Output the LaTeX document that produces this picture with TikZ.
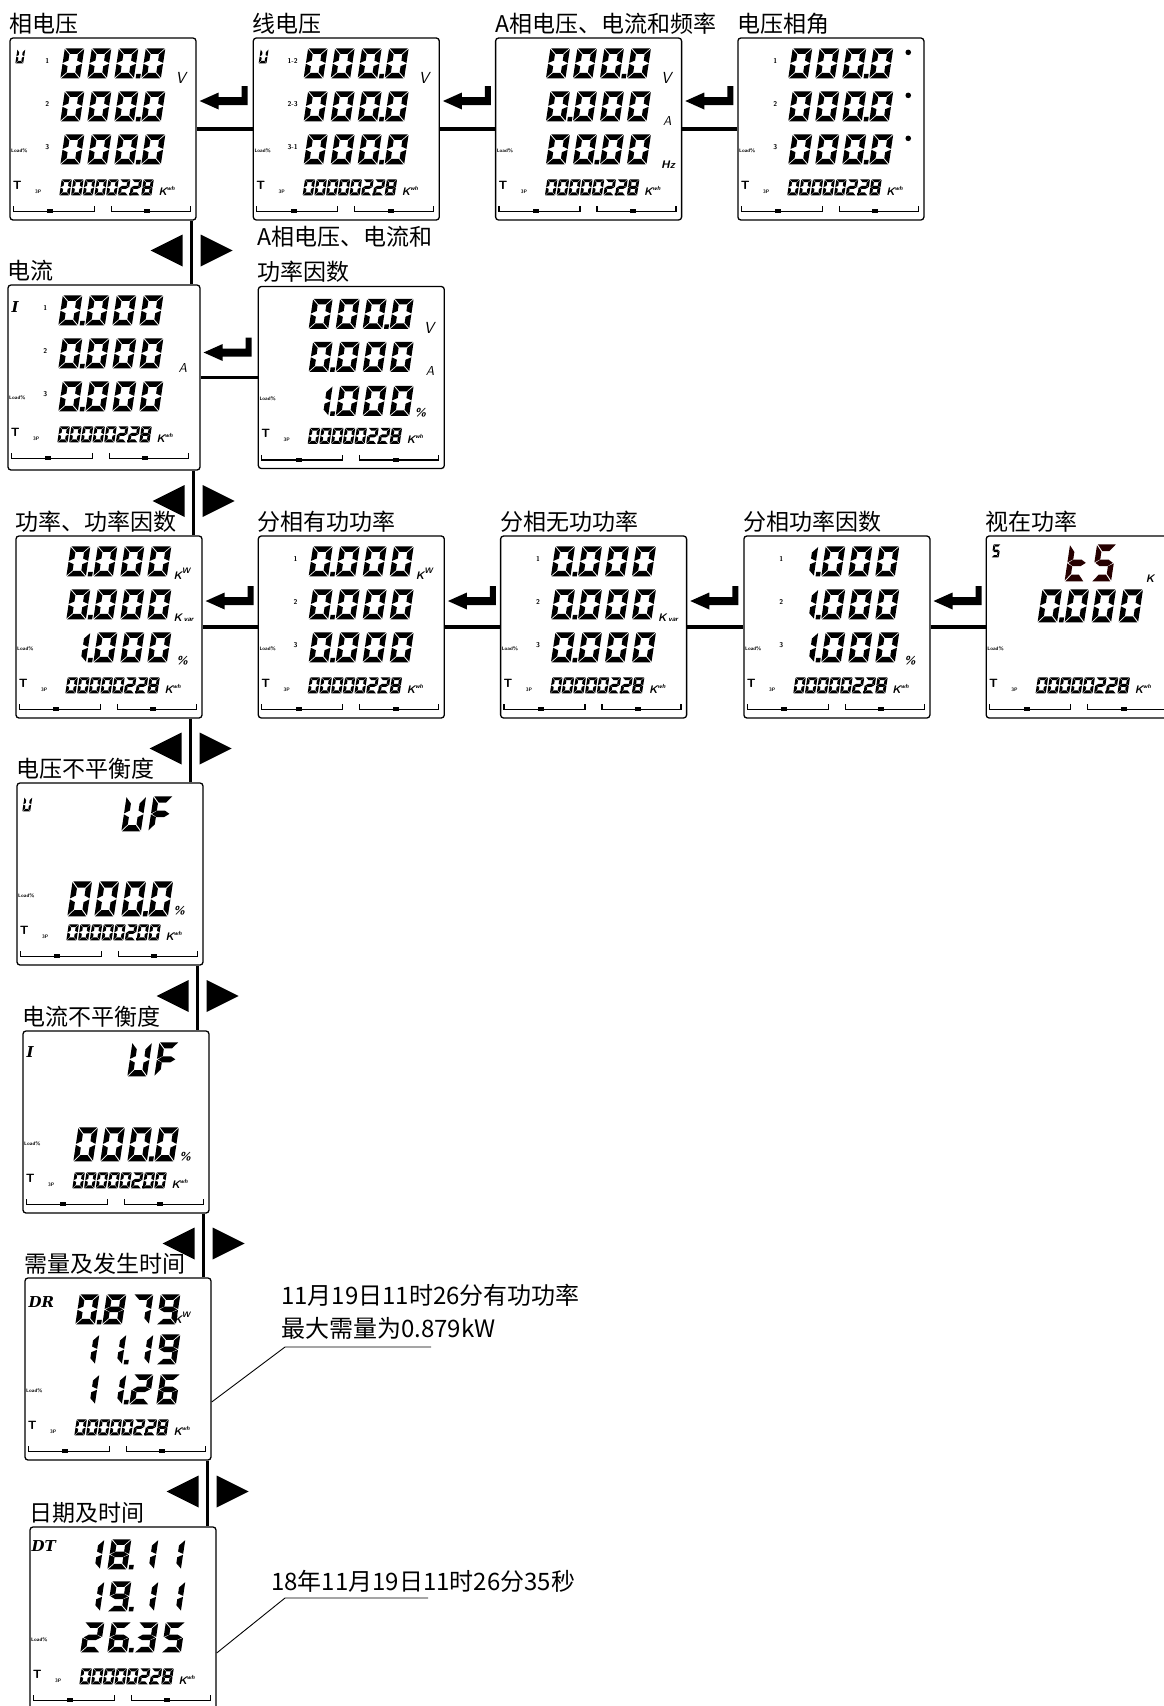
\documentclass[tikz,border=0pt]{standalone}
\usepackage{fontspec}
\newfontfamily\cjk{Noto Sans CJK SC}
\newfontfamily\tagfont{DejaVu Serif}
\usetikzlibrary{positioning,calc}

% segment outlines of one digit cell (13 x 20)
\expandafter\def\csname lcdsega\endcsname{(0.5,20) -- (12.5,20) -- (8.9,16.4) -- (4.1,16.4) -- cycle}
\expandafter\def\csname lcdsegb\endcsname{(13,19.5) -- (9.4,15.9) -- (9.4,11.9) -- (13,10.3) -- cycle}
\expandafter\def\csname lcdsegc\endcsname{(13,0.5) -- (9.4,4.1) -- (9.4,8.1) -- (13,9.7) -- cycle}
\expandafter\def\csname lcdsegd\endcsname{(0.5,0) -- (12.5,0) -- (8.9,3.6) -- (4.1,3.6) -- cycle}
\expandafter\def\csname lcdsege\endcsname{(0,0.5) -- (3.6,4.1) -- (3.6,8.1) -- (0,9.7) -- cycle}
\expandafter\def\csname lcdsegf\endcsname{(0,19.5) -- (3.6,15.9) -- (3.6,11.9) -- (0,10.3) -- cycle}
\expandafter\def\csname lcdsegg\endcsname{(0.7,10) -- (3.9,11.8) -- (9.1,11.8) -- (12.3,10) -- (9.1,8.2) -- (3.9,8.2) -- cycle}

% segments lit for each glyph
\expandafter\def\csname lcdmap0\endcsname{a,b,c,d,e,f}
\expandafter\def\csname lcdmap1\endcsname{b,c}
\expandafter\def\csname lcdmap2\endcsname{a,b,g,e,d}
\expandafter\def\csname lcdmap3\endcsname{a,b,g,c,d}
\expandafter\def\csname lcdmap4\endcsname{f,g,b,c}
\expandafter\def\csname lcdmap5\endcsname{a,f,g,c,d}
\expandafter\def\csname lcdmap6\endcsname{a,f,g,e,c,d}
\expandafter\def\csname lcdmap7\endcsname{a,b,c}
\expandafter\def\csname lcdmap8\endcsname{a,b,c,d,e,f,g}
\expandafter\def\csname lcdmap9\endcsname{a,b,c,d,f,g}
\expandafter\def\csname lcdmapU\endcsname{b,c,d,e,f}
\expandafter\def\csname lcdmapF\endcsname{a,e,f,g}
\expandafter\def\csname lcdmapt\endcsname{d,e,f,g}
\expandafter\def\csname lcdmapS\endcsname{a,f,g,c,d}

\def\lcdtok#1#2\relax{%
  \if-#1\else
    \edef\lcdlist{\csname lcdmap#1\endcsname}%
    \foreach \s in \lcdlist {\expandafter\expandafter\expandafter\fill\csname lcdseg\s\endcsname;}%
  \fi
  \ifx\relax#2\relax\else\fill (14.2,0) rectangle (17.2,3);\fi}

% position, xscale, yscale, pitch, glyphs
\newcommand{\lcd}[5]{%
  \begin{scope}[shift={(#1)}, xslant=0.15, xscale=#2, yscale=#3]
    \foreach \c [count=\n from 0] in {#5} {
      \begin{scope}[xshift=\n*#4]
        \expandafter\lcdtok\c\relax
      \end{scope}}
  \end{scope}}
\newcommand{\bigrow}[2]{\lcd{51,#1}{1.5}{1.5}{18}{#2}}

% common lower part of a display
\newcommand{\lcdbottom}[2]{%
  \node[tinylbl] (#1-load) at (10,-113) {Load\%};
  \node[tlbl] (#1-t) at (8,-148) {T};
  \node[tinylbl] (#1-3p) at (29,-154) {3P};
  \lcd{50,-158}{0.78}{0.8}{15}{#2}
  \node[unit] (#1-kwh) at (149,-158) {K\raisebox{5pt}{\fontsize{6}{6}\selectfont wh}};
  \draw[lcdbar] (4,-169) |- (85,-174) -- (85,-169);
  \draw[lcdbar] (102,-169) |- (181,-174) -- (181,-169);
  \fill (38,-176) rectangle (44,-172);
  \fill (135,-176) rectangle (141,-172);}

\tikzset{
  lcd/.style={draw, line width=1.3pt, rounded corners=3pt, minimum width=186pt, minimum height=182pt, inner sep=0pt},
  ttl/.style={font=\cjk\fontsize{23}{35}\selectfont, inner sep=0pt, align=left},
  note/.style={font=\cjk\fontsize{24}{33}\selectfont, inner sep=0pt, align=left},
  link/.style={line width=3.5pt},
  leader/.style={line width=0.9pt},
  lcdbar/.style={line width=1.3pt},
  seglbl/.style={font=\sffamily\bfseries\fontsize{7}{7}\selectfont, inner sep=0pt},
  tinylbl/.style={font=\sffamily\bfseries\fontsize{5}{5}\selectfont, inner sep=0pt},
  tlbl/.style={font=\sffamily\bfseries\fontsize{12}{12}\selectfont, inner sep=0pt},
  tagl/.style={font=\tagfont\bfseries\itshape\fontsize{15}{15}\selectfont, inner sep=0pt, anchor=south west},
  unit/.style={font=\sffamily\bfseries\itshape\fontsize{11}{11}\selectfont, inner sep=0pt, anchor=south west},
  volt/.style={font=\sffamily\itshape\fontsize{16}{16}\selectfont, inner sep=0pt, anchor=south west},
  amp/.style={font=\sffamily\itshape\fontsize{13}{13}\selectfont, inner sep=0pt, anchor=south west},
  enterkey/.pic={\fill (0,0) -- (19,8.5) -- (19,4) -- (42,4) -- (42,15) -- (48,15) -- (48,-4) -- (19,-4) -- (19,-8.5) -- cycle;},
  navpair/.pic={\fill (-9,16) -- (-41,0) -- (-9,-16) -- cycle; \fill (9,16) -- (41,0) -- (9,-16) -- cycle;}
}

\begin{document}
\begin{tikzpicture}[x=1pt, y=1pt]
    \useasboundingbox (0,0) rectangle (1164,-1706);

    % displays
    \node[lcd] (p1) at (103,-129) {};
    \node[lcd, right=56pt of p1] (p2) {};
    \node[lcd, right=55pt of p2] (p3) {};
    \node[lcd, right=55pt of p3] (p4) {};
    \node[lcd, minimum width=192pt, minimum height=185pt] (p5) at (104,-377.5) {};
    \node[lcd, right=57pt of p5] (p6) {};
    \node[lcd] (p7) at (109,-627) {};
    \node[lcd, right=55pt of p7] (p8) {};
    \node[lcd, right=55pt of p8] (p9) {};
    \node[lcd, right=56pt of p9] (p10) {};
    \node[lcd, minimum width=183pt, right=55pt of p10] (p11) {};
    \node[lcd] (p12) at (110,-874) {};
    \node[lcd] (p13) at (116,-1122) {};
    \node[lcd] (p14) at (118,-1369) {};
    \node[lcd] (p15) at (123,-1618) {};

    % titles
    \node[ttl, above right=3pt and 0pt of p1.north west] (t1) {相电压};
    \node[ttl, above right=3pt and 0pt of p2.north west] (t2) {线电压};
    \node[ttl, above right=3pt and 0pt of p3.north west] (t3) {A相电压、电流和频率};
    \node[ttl, above right=3pt and 0pt of p4.north west] (t4) {电压相角};
    \node[ttl, above right=3pt and 0pt of p5.north west] (t5) {电流};
    \node[ttl, above right=3pt and 0pt of p6.north west] (t6) {A相电压、电流和\\功率因数};
    \node[ttl, above right=3pt and 0pt of p7.north west] (t7) {功率、功率因数};
    \node[ttl, above right=3pt and 0pt of p8.north west] (t8) {分相有功功率};
    \node[ttl, above right=3pt and 0pt of p9.north west] (t9) {分相无功功率};
    \node[ttl, above right=3pt and 0pt of p10.north west] (t10) {分相功率因数};
    \node[ttl, above right=3pt and 0pt of p11.north west] (t11) {视在功率};
    \node[ttl, above right=3pt and 0pt of p12.north west] (t12) {电压不平衡度};
    \node[ttl, above right=3pt and 0pt of p13.north west] (t13) {电流不平衡度};
    \node[ttl, above right=3pt and 0pt of p14.north west] (t14) {需量及发生时间};
    \node[ttl, above right=3pt and 0pt of p15.north west] (t15) {日期及时间};

    % horizontal links with enter keys
    \foreach \a/\b/\h in {p1/p2/28, p2/p3/28, p3/p4/28, p5/p6/25, p7/p8/26, p8/p9/26, p9/p10/26, p10/p11/26} {
        \draw[link] (\a.east) -- (\b.west);
        \pic at ([shift={(3,\h)}]\a.east) {enterkey};
    }

    % vertical links with left/right keys
    \foreach \a/\b/\d [count=\i] in {p1/p5/5, p5/p7/7, p7/p12/12, p12/p13/6, p13/p14/6, p14/p15/4} {
        \coordinate (v\i a) at ([xshift=-\d pt]\a.south east);
        \coordinate (v\i b) at (v\i a |- \b.north);
        \draw[link] (v\i a) -- (v\i b);
        \pic at ($(v\i a)!.5!(v\i b)+(0,2)$) {navpair};
    }

    % phase voltage
    \begin{scope}[shift={(p1.north west)}]
        \lcd{6,-26}{0.6}{0.7}{18}{U}
        \foreach \r in {1,2,3} {\node[seglbl] (p1-l\r) at (38,-43*\r+19) {\r};}
        \bigrow{-41}{0,0,0.,0}
        \bigrow{-84}{0,0,0.,0}
        \bigrow{-127}{0,0,0.,0}
        \node[volt] (p1-v) at (166,-46) {V};
        \lcdbottom{p1}{0,0,0,0,0,2.,2,8}
    \end{scope}

    % line voltage
    \begin{scope}[shift={(p2.north west)}]
        \lcd{6,-26}{0.6}{0.7}{18}{U}
        \foreach \r/\t in {1/1-2, 2/2-3, 3/3-1} {\node[seglbl] (p2-l\r) at (40,-43*\r+19) {\t};}
        \bigrow{-41}{0,0,0.,0}
        \bigrow{-84}{0,0,0.,0}
        \bigrow{-127}{0,0,0.,0}
        \node[volt] (p2-v) at (166,-46) {V};
        \lcdbottom{p2}{0,0,0,0,0,2.,2,8}
    \end{scope}

    % phase A voltage, current, frequency
    \begin{scope}[shift={(p3.north west)}]
        \bigrow{-41}{0,0,0.,0}
        \bigrow{-84}{0.,0,0,0}
        \bigrow{-127}{0,0.,0,0}
        \node[volt] (p3-v) at (166,-46) {V};
        \node[amp] (p3-a) at (168,-88) {A};
        \node[unit] (p3-hz) at (166,-131) {Hz};
        \lcdbottom{p3}{0,0,0,0,0,2.,2,8}
    \end{scope}

    % voltage phase angle
    \begin{scope}[shift={(p4.north west)}]
        \foreach \r in {1,2,3} {
            \node[seglbl] (p4-l\r) at (38,-43*\r+19) {\r};
            \fill (171,-43*\r+28) circle (2.8);
        }
        \bigrow{-41}{0,0,0.,0}
        \bigrow{-84}{0,0,0.,0}
        \bigrow{-127}{0,0,0.,0}
        \lcdbottom{p4}{0,0,0,0,0,2.,2,8}
    \end{scope}

    % current
    \begin{scope}[shift={(p5.north west)}]
        \node[tagl] (p5-i) at (4,-28) {I};
        \foreach \r in {1,2,3} {\node[seglbl] (p5-l\r) at (38,-43*\r+19) {\r};}
        \bigrow{-41}{0.,0,0,0}
        \bigrow{-84}{0.,0,0,0}
        \bigrow{-127}{0.,0,0,0}
        \node[amp] (p5-a) at (171,-88) {A};
        \lcdbottom{p5}{0,0,0,0,0,2.,2,8}
    \end{scope}

    % phase A voltage, current, power factor
    \begin{scope}[shift={(p6.north west)}]
        \bigrow{-43}{0,0,0.,0}
        \bigrow{-86}{0.,0,0,0}
        \bigrow{-130}{1.,0,0,0}
        \node[volt] (p6-v) at (166,-48) {V};
        \node[amp] (p6-a) at (168,-90) {A};
        \node[unit] (p6-pc) at (157,-131) {\%};
        \lcdbottom{p6}{0,0,0,0,0,2.,2,8}
    \end{scope}

    % power, power factor
    \begin{scope}[shift={(p7.north west)}]
        \bigrow{-41}{0.,0,0,0}
        \bigrow{-84}{0.,0,0,0}
        \bigrow{-127}{1.,0,0,0}
        \node[unit] (p7-kw) at (158,-44) {K\raisebox{6pt}{\fontsize{8}{8}\selectfont W}};
        \node[unit] (p7-kvar) at (158,-86) {K\,\fontsize{7}{7}\selectfont var};
        \node[unit] (p7-pc) at (161,-130) {\%};
        \lcdbottom{p7}{0,0,0,0,0,2.,2,8}
    \end{scope}

    % active power per phase
    \begin{scope}[shift={(p8.north west)}]
        \foreach \r in {1,2,3} {\node[seglbl] (p8-l\r) at (38,-43*\r+19) {\r};}
        \bigrow{-41}{0.,0,0,0}
        \bigrow{-84}{0.,0,0,0}
        \bigrow{-127}{0.,0,0,0}
        \node[unit] (p8-kw) at (158,-44) {K\raisebox{6pt}{\fontsize{8}{8}\selectfont W}};
        \lcdbottom{p8}{0,0,0,0,0,2.,2,8}
    \end{scope}

    % reactive power per phase
    \begin{scope}[shift={(p9.north west)}]
        \foreach \r in {1,2,3} {\node[seglbl] (p9-l\r) at (38,-43*\r+19) {\r};}
        \bigrow{-41}{0.,0,0,0}
        \bigrow{-84}{0.,0,0,0}
        \bigrow{-127}{0.,0,0,0}
        \node[unit] (p9-kvar) at (158,-86) {K\,\fontsize{7}{7}\selectfont var};
        \lcdbottom{p9}{0,0,0,0,0,2.,2,8}
    \end{scope}

    % power factor per phase
    \begin{scope}[shift={(p10.north west)}]
        \foreach \r in {1,2,3} {\node[seglbl] (p10-l\r) at (38,-43*\r+19) {\r};}
        \bigrow{-41}{1.,0,0,0}
        \bigrow{-84}{1.,0,0,0}
        \bigrow{-127}{1.,0,0,0}
        \node[unit] (p10-pc) at (161,-130) {\%};
        \lcdbottom{p10}{0,0,0,0,0,2.,2,8}
    \end{scope}

    % apparent power
    \begin{scope}[shift={(p11.north west)}]
        \lcd{6,-22}{0.55}{0.65}{18}{S}
        \begin{scope}[color=red!15!black]
            \lcd{52,-46}{1.5}{1.85}{18}{-,t,S,-}
        \end{scope}
        \lcd{52,-87}{1.5}{1.65}{18}{0.,0,0,0}
        \node[unit] (p11-k) at (160,-47) {K};
        \lcdbottom{p11}{0,0,0,0,0,2.,2,8}
    \end{scope}

    % voltage unbalance
    \begin{scope}[shift={(p12.north west)}]
        \lcd{6,-29}{0.6}{0.7}{18}{U}
        \lcd{51,-49}{1.5}{1.75}{18}{-,-,U,F}
        \lcd{51,-134}{1.5}{1.75}{18}{0,0,0.,0}
        \node[unit] (p12-pc) at (157,-133) {\%};
        \lcdbottom{p12}{0,0,0,0,0,2.,0,0}
    \end{scope}

    % current unbalance
    \begin{scope}[shift={(p13.north west)}]
        \node[tagl] (p13-i) at (4,-27) {I};
        \lcd{51,-46}{1.5}{1.7}{18}{-,-,U,F}
        \lcd{51,-131}{1.5}{1.7}{18}{0,0,0.,0}
        \node[unit] (p13-pc) at (157,-131) {\%};
        \lcdbottom{p13}{0,0,0,0,0,2.,0,0}
    \end{scope}

    % demand and time of occurrence
    \begin{scope}[shift={(p14.north west)}]
        \node[tagl] (p14-dr) at (4,-30) {DR};
        \bigrow{-47}{0.,8,7,9}
        \bigrow{-87}{1,1.,1,9}
        \bigrow{-127}{1,1.,2,6}
        \node[unit] (p14-kw) at (149,-46) {K\raisebox{6pt}{\fontsize{8}{8}\selectfont W}};
        \lcdbottom{p14}{0,0,0,0,0,2.,2,8}
    \end{scope}

    % date and time
    \begin{scope}[shift={(p15.north west)}]
        \node[tagl] (p15-dt) at (2,-25) {DT};
        \bigrow{-43}{1,8.,1,1}
        \bigrow{-85}{1,9.,1,1}
        \bigrow{-126}{2,6.,3,5}
        \lcdbottom{p15}{0,0,0,0,0,2.,2,8}
    \end{scope}

    % notes
    \coordinate (c14) at (285,-1347);
    \node[note, anchor=south west] (n14) at ([shift={(-4,7)}]c14) {11月19日11时26分有功功率\\最大需量为0.879kW};
    \draw[leader] ([yshift=-33pt]p14.east) -- (c14) -- ++(146,0);
    \coordinate (c15) at (285,-1598);
    \node[note, anchor=south west] (n15) at ([shift={(-14,5)}]c15) {18年11月19日11时26分35秒};
    \draw[leader] ([yshift=-35pt]p15.east) -- (c15) -- ++(143,0);
\end{tikzpicture}
\end{document}
